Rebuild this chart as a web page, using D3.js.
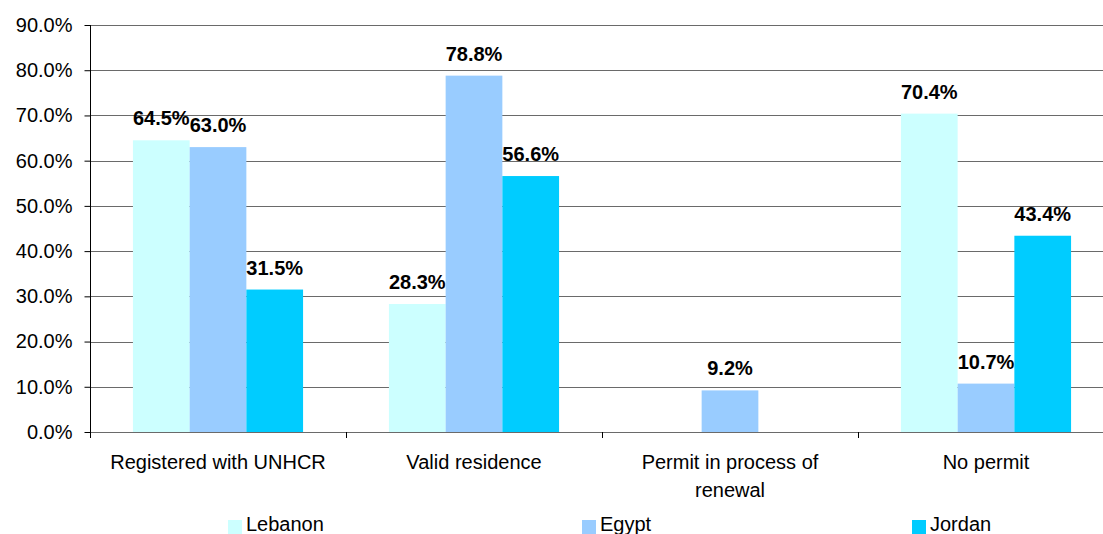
<!DOCTYPE html>
<html>
<head>
<meta charset="utf-8">
<script src="https://cdn.jsdelivr.net/npm/d3@7"></script>
<style>
  html, body { margin: 0; padding: 0; background: #fff; }
  svg { display: block; font-family: "Liberation Sans", Arial, sans-serif; }
</style>
</head>
<body>
<svg id="chart" width="1103" height="534"></svg>
<script>
// Residency status of refugees by host country (%)
const categories = ["Registered with UNHCR", "Valid residence", "Permit in process of renewal", "No permit"];
const categoryLines = [["Registered with UNHCR"], ["Valid residence"], ["Permit in process of", "renewal"], ["No permit"]];
const seriesNames = ["Lebanon", "Egypt", "Jordan"];
const lebanon = [64.5, 28.3, null, 70.4];
const egypt   = [63.0, 78.8, 9.2, 10.7];
const jordan  = [31.5, 56.6, null, 43.4];
const yTicks  = [0, 10, 20, 30, 40, 50, 60, 70, 80, 90];
const colors  = ["#CCFFFF", "#99CCFF", "#00CCFF"];

const seriesValues = [lebanon, egypt, jordan];

const svg = d3.select("#chart");
const plotLeft = 90, plotRight = 1114, plotTop = 25, plotBottom = 432;

const x = d3.scaleBand().domain(categories).range([plotLeft, plotRight]).padding(0);
const xs = d3.scaleBand().domain(seriesNames).range([0, x.bandwidth()])
  .paddingInner(0).paddingOuter(0.757);
const y = d3.scaleLinear().domain([0, 90]).range([plotBottom, plotTop]);
const fmt = v => v.toFixed(1) + "%";

// horizontal gridlines
svg.append("g")
  .selectAll("line")
  .data(yTicks)
  .join("line")
  .attr("x1", plotLeft).attr("x2", plotRight)
  .attr("y1", d => Math.round(y(d)) + 0.5)
  .attr("y2", d => Math.round(y(d)) + 0.5)
  .attr("stroke", "#6a6a6a")
  .attr("stroke-width", 1);

// bars
const groups = svg.append("g")
  .selectAll("g")
  .data(categories)
  .join("g")
  .attr("transform", d => `translate(${x(d)},0)`);

const rows = i => seriesNames.map((s, k) => ({ s, k, v: seriesValues[k][i] })).filter(d => d.v != null);

groups.selectAll("rect")
  .data((c, i) => rows(i))
  .join("rect")
  .attr("x", d => xs(d.s))
  .attr("width", xs.bandwidth())
  .attr("y", d => y(d.v))
  .attr("height", d => y(0) - y(d.v))
  .attr("fill", d => colors[d.k]);

// value labels
groups.selectAll("text")
  .data((c, i) => rows(i))
  .join("text")
  .attr("x", d => xs(d.s) + xs.bandwidth() / 2)
  .attr("y", d => y(d.v) - 15)
  .attr("text-anchor", "middle")
  .attr("font-size", "20px")
  .attr("font-weight", "bold")
  .attr("fill", "#000")
  .text(d => fmt(d.v));

// y axis
const yAxis = d3.axisLeft(y).tickValues(yTicks).tickSize(6).tickPadding(12)
  .tickFormat(d => d.toFixed(1) + "%");
const ya = svg.append("g").attr("transform", `translate(${plotLeft + 0.5},0)`).call(yAxis);
ya.select(".domain").remove();
ya.selectAll("line").attr("stroke", "#000");
ya.selectAll("text").attr("font-size", "20px").attr("fill", "#000")
  .attr("font-family", "Liberation Sans, Arial, sans-serif");
svg.append("line")
  .attr("x1", plotLeft + 0.5).attr("x2", plotLeft + 0.5)
  .attr("y1", plotTop).attr("y2", plotBottom + 6)
  .attr("stroke", "#000");

// category ticks
svg.append("g")
  .selectAll("line")
  .data(categories.slice(1))
  .join("line")
  .attr("x1", d => Math.round(x(d)) + 0.5).attr("x2", d => Math.round(x(d)) + 0.5)
  .attr("y1", plotBottom).attr("y2", plotBottom + 6)
  .attr("stroke", "#000");

// category labels
svg.append("g")
  .selectAll("text")
  .data(categories)
  .join("text")
  .attr("x", d => x(d) + x.bandwidth() / 2)
  .attr("y", 469)
  .attr("text-anchor", "middle")
  .attr("font-size", "20px")
  .attr("fill", "#000")
  .each(function(d, i) {
    d3.select(this).selectAll("tspan")
      .data(categoryLines[i])
      .join("tspan")
      .attr("x", x(d) + x.bandwidth() / 2)
      .attr("dy", (l, j) => j === 0 ? 0 : 28)
      .text(l => l);
  });

// legend
const legendX = [228, 582, 912];
const legend = svg.append("g")
  .selectAll("g")
  .data(seriesNames)
  .join("g")
  .attr("transform", (d, i) => `translate(${legendX[i]},0)`);
legend.append("rect")
  .attr("x", 0).attr("y", 520).attr("width", 14).attr("height", 14)
  .attr("fill", (d, i) => colors[i]);
legend.append("text")
  .attr("x", 18).attr("y", 531)
  .attr("font-size", "20px")
  .attr("fill", "#000")
  .text(d => d);
</script>
</body>
</html>
